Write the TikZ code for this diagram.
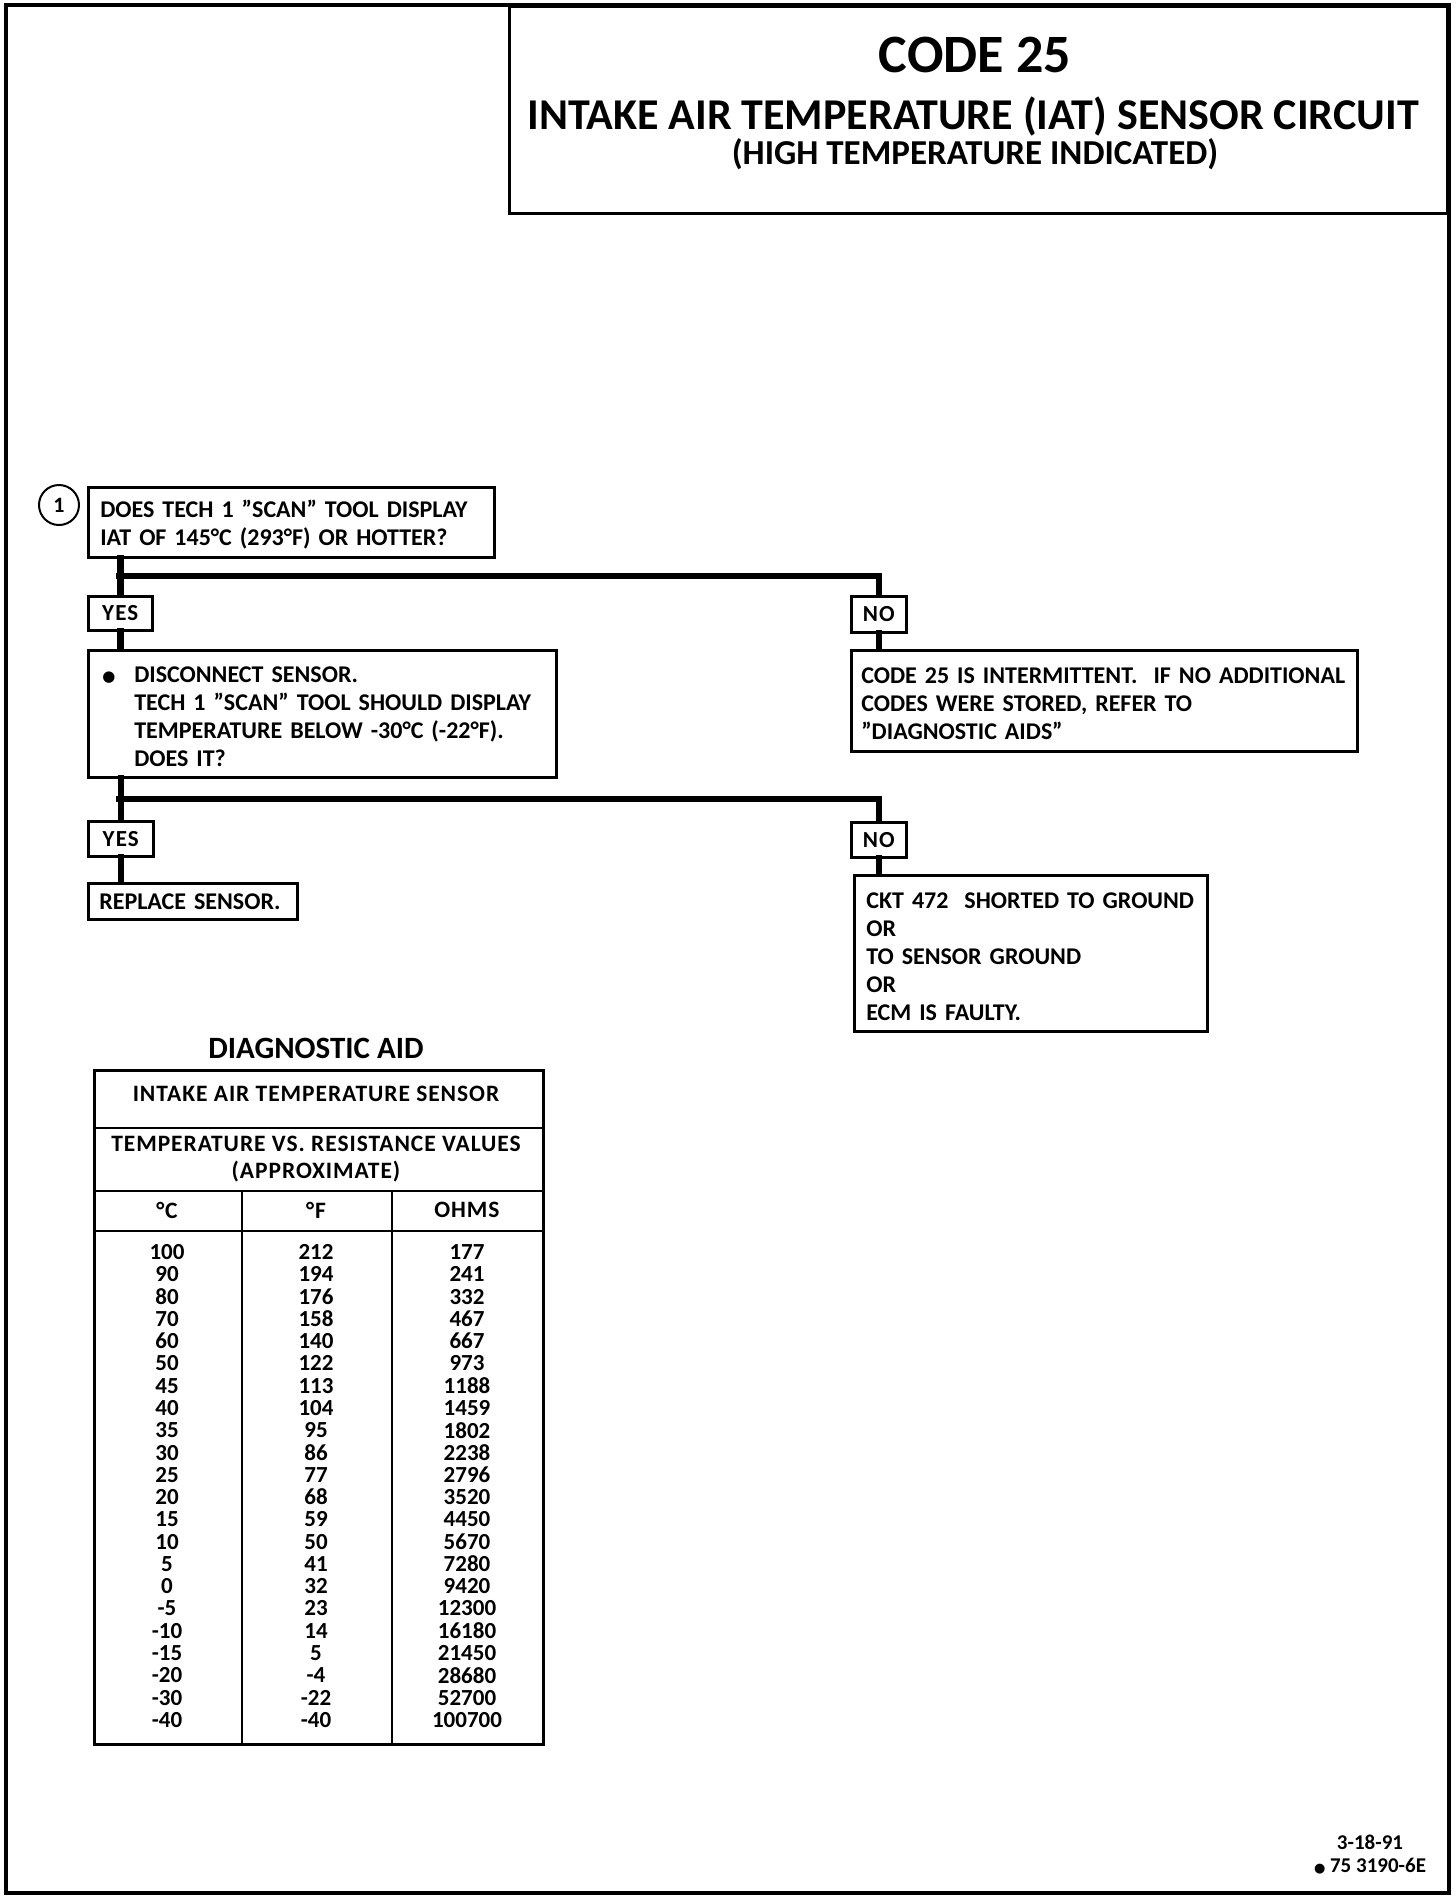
\documentclass[tikz,border=0pt]{standalone}
\usepackage{fontspec}
\setmainfont{Carlito}
\newfontfamily\dejavu{DejaVu Sans}
\newcommand\oneline[1]{\mbox{#1}}
\begin{document}
\begin{tikzpicture}[x=1pt,y=-1pt,
  box/.style={draw, line width=2.6pt, anchor=north west, inner ysep=0pt, align=left},
  lbl/.style={draw, line width=2.6pt, anchor=north west, inner sep=0pt, font=\fontsize{23}{23}\selectfont\bfseries\addfontfeature{LetterSpace=5}},
  body/.style={font=\fontsize{24}{28}\selectfont\bfseries},
  conn/.style={line width=6.5pt, line cap=rect, line join=miter},
  tline/.style={line width=2.5pt},
  thead/.style={font=\fontsize{23.5}{28}\selectfont\bfseries\addfontfeature{LetterSpace=4}},
  tdat/.style={font=\fontsize{23}{23}\selectfont\bfseries, inner sep=0pt}
]
\useasboundingbox (0,0) rectangle (1456,1896);
% outer frame
\draw[line width=4pt] (6,5) rectangle (1449,1893);

% title block
\node[draw, line width=2.6pt, anchor=north west, minimum width=938, minimum height=207, inner sep=0pt] (title) at (508,5) {};
\node[inner sep=0pt, font=\fontsize{54}{54}\selectfont\bfseries] (t1) at (975,55) {CODE 25};
\node[inner sep=0pt, font=\fontsize{44}{44}\selectfont\bfseries] (t2) at (973,116) {INTAKE AIR TEMPERATURE (IAT) SENSOR CIRCUIT};
\node[inner sep=0pt, font=\fontsize{35}{35}\selectfont\bfseries] (t3) at (975,154) {(HIGH TEMPERATURE INDICATED)};

% step 1
\node[draw, circle, line width=2pt, minimum size=40, inner sep=0pt, font=\fontsize{22}{22}\selectfont\bfseries] (n1) at (59,505) {1};
\node[box, body, text width=382, inner xsep=12, minimum height=70] (q1) at (87,486)
  {\rule{0pt}{22pt}\oneline{DOES TECH 1 ”SCAN” TOOL DISPLAY}\\\oneline{IAT OF 145°C (293°F) OR HOTTER?}};

\node[lbl, minimum width=64, minimum height=34] (yes1) at (87,595) {YES};
\node[lbl, minimum width=55, minimum height=36] (no1) at (850,595) {NO};

\node[box, body, text width=444, inner xsep=12, minimum height=127] (q2) at (87,649)
  {\rule{0pt}{22pt}\makebox[34pt][l]{\hspace{2pt}\raisebox{1pt}{\dejavu\fontsize{15}{15}\selectfont ●}}\oneline{DISCONNECT SENSOR.}\\
   \hspace*{34pt}\oneline{TECH 1 ”SCAN” TOOL SHOULD DISPLAY}\\
   \hspace*{34pt}\oneline{TEMPERATURE BELOW -30°C (-22°F).}\\
   \hspace*{34pt}\oneline{DOES IT?}};

\node[box, body, text width=486, inner xsep=10, minimum height=101] (r1) at (850,649)
  {\rule{0pt}{22pt}\oneline{CODE 25 IS INTERMITTENT.\ \ IF NO ADDITIONAL}\\\oneline{CODES WERE STORED, REFER TO}\\\oneline{”DIAGNOSTIC AIDS”}};

\node[lbl, minimum width=65, minimum height=35] (yes2) at (87,820) {YES};
\node[lbl, minimum width=55, minimum height=35] (no2) at (850,821) {NO};

\node[box, body, text width=187, inner xsep=11, minimum height=36] (rep) at (87,882) {\oneline{REPLACE SENSOR.}};

\node[box, body, text width=329, inner xsep=12, minimum height=156] (ckt) at (853,874)
  {\rule{0pt}{22pt}\oneline{CKT 472\ \ SHORTED TO GROUND}\\OR\\\oneline{TO SENSOR GROUND}\\OR\\\oneline{ECM IS FAULTY.}};

% connectors
\coordinate (j1) at (119.5,576);
\coordinate (j2) at (119.5,799);
\draw[conn] (q1.south -| yes1.north) -- (yes1.north);
\draw[conn] (j1) -| (no1.north);
\draw[conn] (yes1.south) -- (q2.north -| yes1.south);
\draw[conn] (no1.south) -- (r1.north -| no1.south);
\draw[conn] (q2.south -| yes2.north) -- (yes2.north);
\draw[conn] (j2) -| (no2.north);
\draw[conn] (yes2.south) -- (rep.north -| yes2.south);
\draw[conn] (no2.south) -- (ckt.north -| no2.south);

% diagnostic aid table
\node[font=\fontsize{31}{31}\selectfont\bfseries] (dtitle) at (316,1048) {DIAGNOSTIC AID};
\node[draw, line width=2.5pt, anchor=north west, minimum width=449, minimum height=674, inner sep=0pt] (tbl) at (93,1069) {};
\draw[tline] (93,1128) -- (542,1128);
\draw[tline] (93,1191) -- (542,1191);
\draw[tline] (93,1231) -- (542,1231);
\draw[tline] (242,1191) -- (242,1743);
\draw[tline] (392,1191) -- (392,1743);
\node[thead] (h1) at (316,1094) {INTAKE AIR TEMPERATURE SENSOR};
\node[thead] (h2) at (316,1144) {TEMPERATURE VS. RESISTANCE VALUES};
\node[thead] (h3) at (316,1172) {(APPROXIMATE)};
\node[thead] (hc) at (167,1210) {°C};
\node[thead] (hf) at (316,1210) {°F};
\node[thead] (ho) at (467,1210) {OHMS};
\foreach \c/\f/\o [count=\i from 0] in {100/212/177, 90/194/241, 80/176/332, 70/158/467, 60/140/667, 50/122/973, 45/113/1188, 40/104/1459, 35/95/1802, 30/86/2238, 25/77/2796, 20/68/3520, 15/59/4450, 10/50/5670, 5/41/7280, 0/32/9420, -5/23/12300, -10/14/16180, -15/5/21450, -20/-4/28680, -30/-22/52700, -40/-40/100700}{
  \node[tdat] (dc\i) at (167,{1252+22.28*\i}) {\c};
  \node[tdat] (df\i) at (316,{1252+22.28*\i}) {\f};
  \node[tdat] (do\i) at (467,{1252+22.28*\i}) {\o};
}

% footer
\node[font=\fontsize{21}{23}\selectfont\bfseries, align=center] (foot) at (1370,1855)
  {3-18-91\\{\dejavu\fontsize{13}{13}\selectfont ●} 75 3190-6E};
\end{tikzpicture}
\end{document}
